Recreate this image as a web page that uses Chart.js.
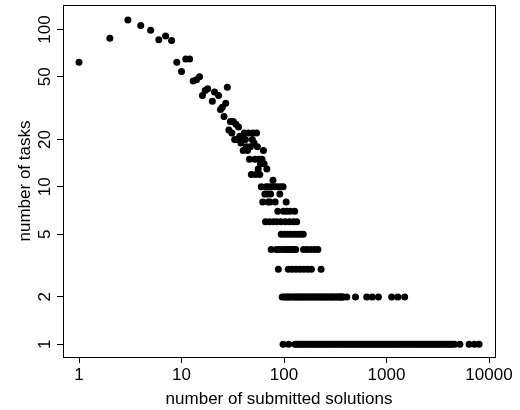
<!DOCTYPE html>
<html>
<head>
<meta charset="utf-8">
<script src="https://cdn.jsdelivr.net/npm/chart.js@4.4.1/dist/chart.umd.min.js"></script>
<style>
html, body { margin: 0; padding: 0; background: #fff; }
</style>
</head>
<body>
<canvas id="myChart" width="520" height="410"></canvas>
<script>
var xTicks = [1, 10, 100, 1000, 10000];
var yTicks = [1, 2, 5, 10, 20, 50, 100];

// solution counts shared by three or more tasks
var solutions = [1, 2, 3, 4, 5, 6, 7, 8, 9, 10, 11, 12, 13, 14, 15, 16, 17, 18, 20, 21,
	23, 24, 25, 26, 27, 28, 29, 30, 31, 32, 33, 34, 35, 36, 37, 38, 39, 40, 41, 42,
	43, 44, 45, 46, 47, 48, 49, 50, 51, 52, 53, 54, 55, 56, 57, 58, 59, 60, 61, 62,
	63, 64, 65, 66, 67, 68, 69, 70, 71, 72, 73, 74, 75, 76, 78, 79, 81, 82, 84, 85,
	86, 87, 88, 89, 91, 92, 93, 94, 96, 98, 99, 101, 102, 103, 105, 106, 108, 109, 110, 112,
	113, 115, 117, 118, 120, 123, 124, 126, 127, 130, 131, 133, 135, 143, 145, 154, 155, 156, 168, 170,
	183, 185, 199, 214, 230];
var tasks = [62, 88, 115, 106, 99, 86, 91, 85, 62, 54, 65, 65, 47, 48, 50, 38, 41, 42, 35, 40,
	38, 31, 32, 28, 34, 43, 23, 26, 22, 26, 20, 25, 20, 24, 21, 19, 20, 17, 22, 20,
	18, 17, 22, 15, 18, 12, 20, 22, 19, 15, 12, 22, 18, 13, 15, 12, 14, 10, 15, 8,
	17, 14, 9, 6, 10, 13, 9, 8, 10, 6, 8, 9, 4, 10, 11, 6, 10, 8, 4, 6,
	10, 7, 3, 4, 9, 10, 6, 5, 4, 10, 7, 5, 4, 6, 8, 7, 4, 5, 3, 4,
	6, 7, 5, 4, 3, 4, 6, 5, 7, 4, 3, 6, 5, 3, 5, 5, 4, 3, 4, 3,
	4, 3, 4, 4, 3];

// solution counts that exactly two tasks have
var twoTaskSolutions = [96, 100, 104, 108, 111, 115, 119, 124, 128, 132, 136, 141, 146, 151, 157, 161,
	166, 172, 178, 184, 191, 197, 204, 210, 217, 225, 233, 241, 249, 256, 264, 274,
	284, 292, 301, 312, 323, 334, 345, 353, 362, 370, 378, 410, 498, 641, 724, 833,
	1122, 1291, 1503];

// solution counts that only one task has
var oneTaskSolutions = [98, 111, 128, 133, 139, 145, 151, 158, 166, 173, 181, 189, 197, 206, 215, 225,
	236, 247, 258, 269, 281, 294, 307, 321, 336, 351, 367, 384, 402, 421, 441, 460,
	480, 503, 526, 549, 573, 601, 629, 656, 684, 717, 750, 782, 815, 852, 890, 933,
	977, 1019, 1062, 1110, 1160, 1218, 1275, 1332, 1390, 1451, 1512, 1586, 1660, 1731,
	1805, 1892, 1980, 2065, 2150, 2255, 2360, 2465, 2570, 2695, 2820, 2945, 3070, 3215,
	3360, 3515, 3670, 3840, 4010, 4195, 4380, 4620, 5200, 6400, 7200, 8000];

var fontFamily = '"Liberation Sans", Arial, Helvetica, sans-serif';

function makePoints() {
	var points = [];
	for (var i = 0; i < solutions.length; i++) {
		points.push({x: solutions[i], y: tasks[i]});
	}
	twoTaskSolutions.forEach(function(s) { points.push({x: s, y: 2}); });
	oneTaskSolutions.forEach(function(s) { points.push({x: s, y: 1}); });
	return points;
}

var boxPlugin = {
	id: 'box',
	afterDraw: function(chart) {
		var a = chart.chartArea;
		var ctx = chart.ctx;
		ctx.save();
		ctx.strokeStyle = '#000';
		ctx.lineWidth = 1;
		ctx.strokeRect(Math.round(a.left) + 0.5, Math.round(a.top) + 0.5,
			Math.round(a.right - a.left), Math.round(a.bottom - a.top));
		ctx.restore();
	}
};

var chartConfig = {
	type: 'scatter',
	data: {
		datasets: [{
			data: makePoints(),
			backgroundColor: '#000',
			borderColor: '#000',
			borderWidth: 0,
			pointRadius: 3.5,
			pointHoverRadius: 3.5
		}]
	},
	options: {
		responsive: false,
		animation: false,
		layout: { padding: { top: 5, right: 25, left: 0, bottom: 0 } },
		plugins: {
			legend: { display: false },
			tooltip: { enabled: false }
		},
		scales: {
			x: {
				type: 'logarithmic',
				min: 0.698,
				max: 11440,
				afterBuildTicks: function(scale) {
					scale.ticks = xTicks.map(function(v) { return {value: v}; });
				},
				afterFit: function(scale) {
					scale.height = 53;
					scale.paddingLeft = 0;
					scale.paddingRight = 0;
				},
				grid: { drawOnChartArea: false, drawTicks: true, tickLength: 6, color: '#000' },
				border: { display: true, color: '#000' },
				ticks: {
					color: '#000',
					font: { family: fontFamily, size: 17 },
					padding: 2,
					maxRotation: 0,
					autoSkip: false,
					callback: function(v) { return String(v); }
				},
				title: {
					display: true,
					text: 'number of submitted solutions',
					color: '#000',
					font: { family: fontFamily, size: 17 },
					padding: { top: 0, bottom: 0 }
				}
			},
			y: {
				type: 'logarithmic',
				min: 0.83,
				max: 143,
				afterBuildTicks: function(scale) {
					scale.ticks = yTicks.map(function(v) { return {value: v}; });
				},
				afterFit: function(scale) {
					scale.width = 63;
					scale.paddingTop = 0;
					scale.paddingBottom = 0;
				},
				grid: { drawOnChartArea: false, drawTicks: true, tickLength: 6, color: '#000' },
				border: { display: true, color: '#000' },
				ticks: {
					color: '#000',
					font: { family: fontFamily, size: 17 },
					padding: -2,
					minRotation: 90,
					maxRotation: 90,
					crossAlign: 'center',
					autoSkip: false,
					callback: function(v) { return String(v); }
				},
				title: {
					display: true,
					text: 'number of tasks',
					color: '#000',
					font: { family: fontFamily, size: 17 },
					padding: { top: 15, bottom: 0 }
				}
			}
		}
	},
	plugins: [boxPlugin]
};

var ctx = document.getElementById('myChart').getContext('2d');
var myChart = new Chart(ctx, chartConfig);
</script>
</body>
</html>
